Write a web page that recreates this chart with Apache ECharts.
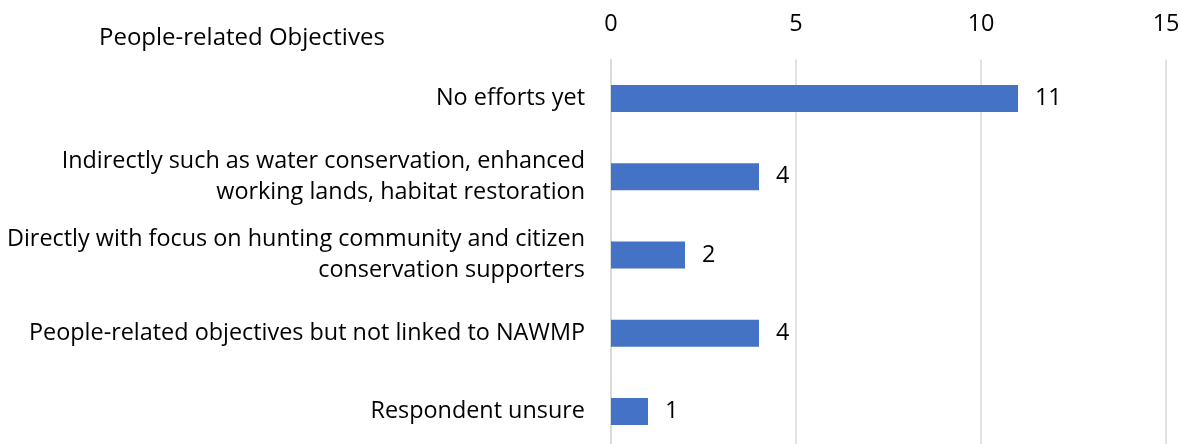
<!DOCTYPE html>
<html>
<head>
<meta charset="utf-8">
<script src="https://cdn.jsdelivr.net/npm/echarts@6/dist/echarts.min.js"></script>
<style>
  html, body { margin: 0; padding: 0; background: #ffffff; }
  #chart { width: 1181px; height: 444px; }
</style>
</head>
<body>
<div id="chart"></div>
<script>
// Survey responses: how people-related objectives are addressed
const chartTitle = 'People-related Objectives';
const categories = [
  'No efforts yet',
  'Indirectly such as water conservation, enhanced\nworking lands, habitat restoration',
  'Directly with focus on hunting community and citizen\nconservation supporters',
  'People-related objectives but not linked to NAWMP',
  'Respondent unsure'
];
const counts = [11, 4, 2, 4, 1];
const axisTicks = [0, 5, 10, 15];

const FONT = 'Open Sans';
const FONT_SIZE = 23.4;
const chart = echarts.init(document.getElementById('chart'), null, { renderer: 'canvas' });

chart.setOption({
  animation: false,
  backgroundColor: '#ffffff',
  title: {
    text: chartTitle,
    left: 94,
    top: 21,
    textStyle: { fontFamily: FONT, fontSize: 24, fontWeight: 'normal', color: '#000000' }
  },
  grid: {
    left: 611, right: 15, top: 59.5, bottom: -6.5,
    containLabel: false, outerBoundsMode: 'none'
  },
  xAxis: {
    type: 'value',
    position: 'top',
    min: axisTicks[0],
    max: axisTicks[axisTicks.length - 1],
    interval: axisTicks[1] - axisTicks[0],
    axisLine: { show: false },
    axisTick: { show: false },
    axisLabel: { fontFamily: FONT, fontSize: FONT_SIZE, color: '#000000', margin: 24 },
    splitLine: { show: true, lineStyle: { color: '#d9d9d9', width: 1.5 } }
  },
  yAxis: {
    type: 'category',
    inverse: true,
    data: categories,
    axisLine: { show: true, lineStyle: { color: '#d9d9d9', width: 1.5 } },
    axisTick: { show: false },
    axisLabel: {
      fontFamily: FONT, fontSize: FONT_SIZE, color: '#000000', margin: 26,
      align: 'right', lineHeight: 31.5
    }
  },
  series: [{
    type: 'bar',
    data: counts,
    barWidth: 27,
    itemStyle: { color: '#4472c4' },
    label: {
      show: true,
      position: 'right',
      distance: 17,
      fontFamily: FONT, fontSize: FONT_SIZE, color: '#000000'
    }
  }]
});
</script>
</body>
</html>
